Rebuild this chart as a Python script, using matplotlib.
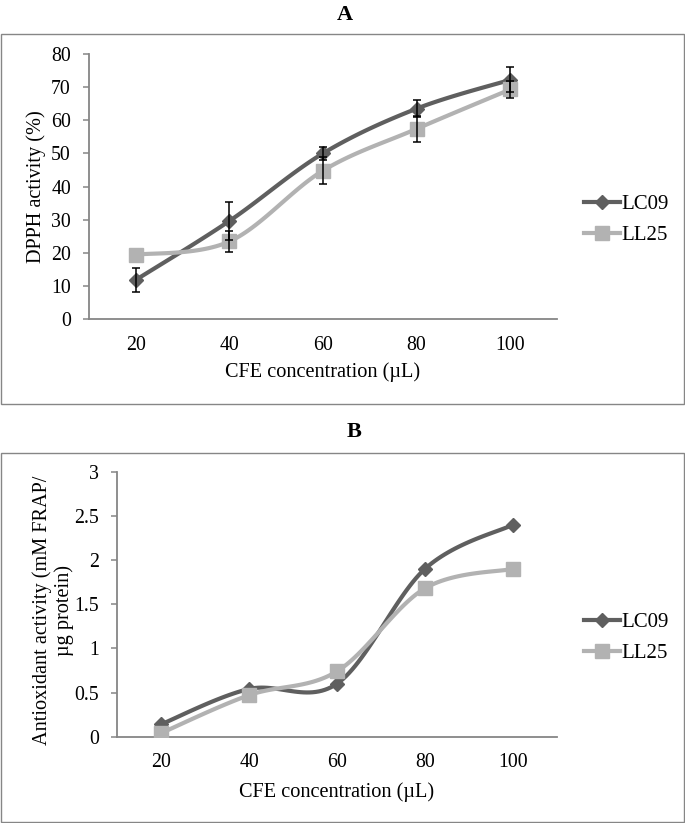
import numpy as np
import matplotlib
matplotlib.use("Agg")
import matplotlib.pyplot as plt
from matplotlib.patches import Rectangle
from matplotlib.ticker import FormatStrFormatter

plt.rcParams['font.family'] = ['Liberation Serif', 'DejaVu Serif']

conc = ["20", "40", "60", "80", "100"]

# panel A : DPPH activity (%)
dpph_lc09 = [11.8, 29.6, 50.0, 63.5, 72.2]
dpph_lc09_err = [3.5, 5.6, 2.0, 2.5, 3.8]
dpph_ll25 = [19.4, 23.4, 44.8, 57.4, 69.3]
dpph_ll25_err = [0.0, 3.3, 4.1, 3.9, 2.6]

# panel B : FRAP
frap_lc09 = [0.14, 0.54, 0.60, 1.90, 2.40]
frap_ll25 = [0.04, 0.47, 0.74, 1.68, 1.90]

W, H = 685, 823
DARK = "#5f5f5f"
LIGHT = "#b2b2b2"
AXC = "#868686"


def px(x, y):
    return x / W, 1 - y / H


def smooth(xs, ys, n=30):
    # catmull-rom like the excel "smoothed line"
    p = np.column_stack([xs, ys]).astype(float)
    p = np.vstack([p[0], p, p[-1]])
    out = []
    t = np.linspace(0, 1, n)
    for i in range(1, len(p) - 2):
        p0, p1, p2, p3 = p[i - 1], p[i], p[i + 1], p[i + 2]
        m1 = (p2 - p0) / 2
        m2 = (p3 - p1) / 2
        h00 = 2*t**3 - 3*t**2 + 1
        h10 = t**3 - 2*t**2 + t
        h01 = -2*t**3 + 3*t**2
        h11 = t**3 - t**2
        seg = (h00[:, None]*p1 + h10[:, None]*m1 + h01[:, None]*p2 + h11[:, None]*m2)
        out.append(seg if i == 1 else seg[1:])
    out = np.vstack(out)
    return out[:, 0], out[:, 1]


def series(ax, y, color, marker, ms, label, err=None):
    x = np.arange(len(y))
    sx, sy = smooth(x, y)
    ax.plot(sx, sy, color=color, lw=3, solid_capstyle='round', zorder=2)
    ax.plot(x, y, ls='none', marker=marker, ms=ms, color=color, zorder=3)
    h, = ax.plot([], [], color=color, lw=3, marker=marker, ms=ms, label=label)
    if err is not None:
        err = np.asarray(err)
        keep = err > 0
        ax.errorbar(x[keep], np.asarray(y)[keep], yerr=err[keep], fmt='none',
                    ecolor='black', elinewidth=1.1, capsize=3.2, capthick=1.1, zorder=4)
    return h


def style(ax, ylim, yticks, fmt):
    ax.set_xlim(-0.5, len(conc) - 0.5)
    ax.set_ylim(*ylim)
    ax.set_yticks(yticks)
    ax.yaxis.set_major_formatter(FormatStrFormatter(fmt))
    ax.set_xticks(range(len(conc)))
    ax.set_xticklabels(conc)
    for s in ['top', 'right']:
        ax.spines[s].set_visible(False)
    for s in ['left', 'bottom']:
        ax.spines[s].set_color(AXC)
        ax.spines[s].set_linewidth(1.3)
    ax.tick_params(axis='y', direction='out', length=4.5, width=1.1, color=AXC,
                   labelsize=14.3, pad=8.5)
    ax.tick_params(axis='x', length=0, labelsize=14.3, pad=12)


def legend(ax, handles):
    # same pixel offset from the axis end in both panels
    w = ax.get_position().width * W
    ax.legend(handles=handles, loc='center left', bbox_to_anchor=(1 + 18.5 / w, 0.373),
              frameon=False, fontsize=15, handlelength=1.75, handletextpad=0.05,
              labelspacing=0.55, borderaxespad=0)


fig = plt.figure(figsize=(W / 100, H / 100), dpi=100)

# frames around each panel
for y0, y1 in [(33.7, 404), (452.7, 821.7)]:
    x0, yb = px(1, y1)
    x1, yt = px(684, y0)
    fig.patches.append(Rectangle((x0, yb), x1 - x0, yt - yb, transform=fig.transFigure,
                                 fill=False, ec=AXC, lw=1.0))

# ---- A
l, b = px(89, 319)
r, t = px(557, 54)
axA = fig.add_axes([l, b, r - l, t - b])
hA1 = series(axA, dpph_lc09, DARK, 'D', 7.5, 'LC09', dpph_lc09_err)
hA2 = series(axA, dpph_ll25, LIGHT, 's', 9.5, 'LL25', dpph_ll25_err)
style(axA, (0, 80), np.arange(0, 81, 10), '%g')
legend(axA, [hA1, hA2])

fig.text(*px(345, 15), "A", ha='center', va='center', fontsize=16, fontweight='bold')
fig.text(*px(36, 187), "DPPH activity (%)", rotation=90, ha='center', va='center', fontsize=14.6)
fig.text(*px(323, 372), "CFE concentration (\u00b5L)", ha='center', va='center', fontsize=14.6)

# ---- B
l, b = px(117, 736.7)
r, t = px(557, 471.7)
axB = fig.add_axes([l, b, r - l, t - b])
hB1 = series(axB, frap_lc09, DARK, 'D', 7.5, 'LC09')
hB2 = series(axB, frap_ll25, LIGHT, 's', 9.5, 'LL25')
style(axB, (0, 3), np.arange(0, 3.01, 0.5), '%g')
legend(axB, [hB1, hB2])

fig.text(*px(354, 432), "B", ha='center', va='center', fontsize=16, fontweight='bold')
fig.text(*px(53, 610), "Antioxidant activity (mM FRAP/\n\u00b5g protein)", rotation=90,
         ha='center', va='center', fontsize=14.6, linespacing=1.15)
fig.text(*px(337, 792), "CFE concentration (\u00b5L)", ha='center', va='center', fontsize=14.6)

fig.savefig("out.png", dpi=100)
